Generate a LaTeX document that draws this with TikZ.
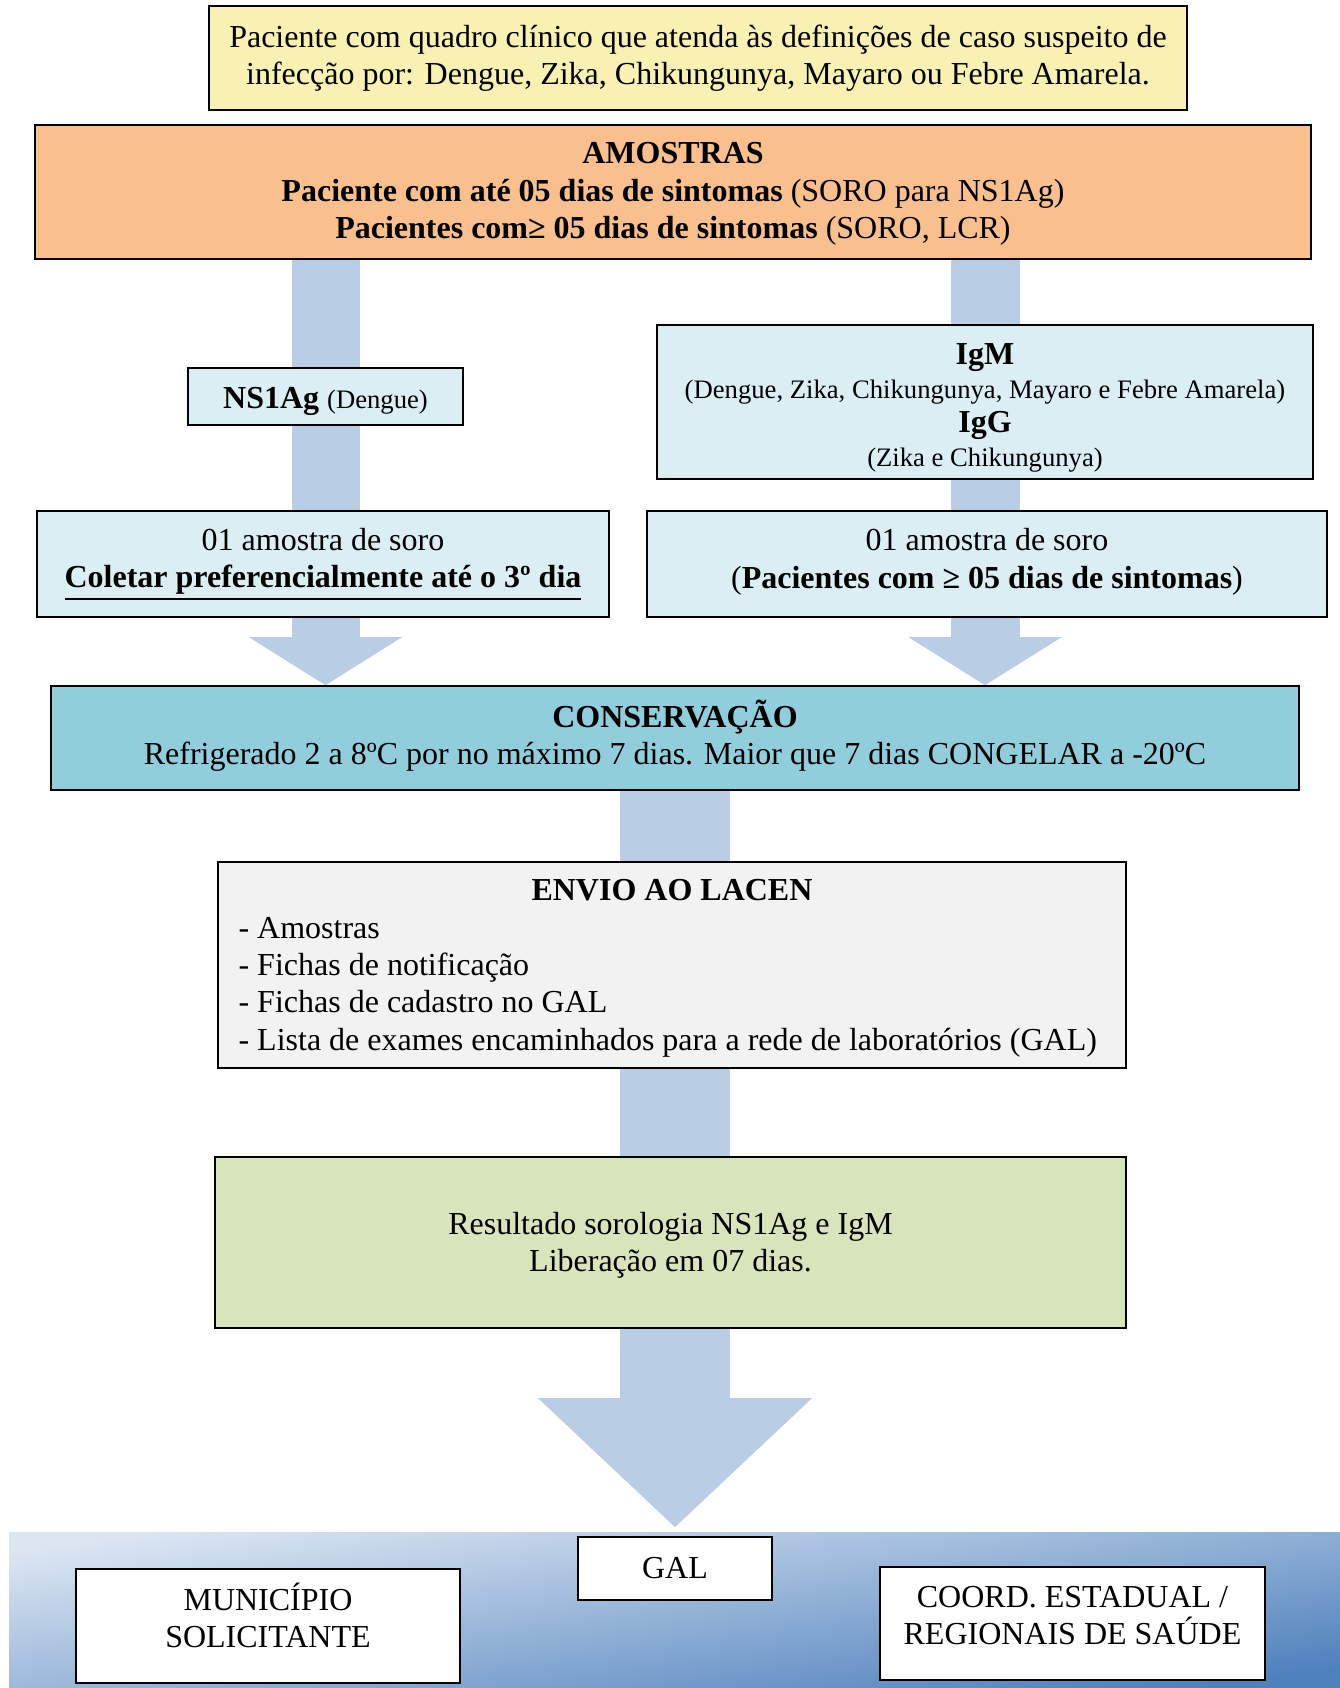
\documentclass[tikz,border=0pt]{standalone}
\usepackage{fontspec}
\setmainfont{Liberation Serif}
\usetikzlibrary{arrows.meta, shadows, backgrounds}

\definecolor{amarelo}{HTML}{F9F0B3}
\definecolor{laranja}{HTML}{FABF8F}
\definecolor{azulclaro}{HTML}{DBEEF3}
\definecolor{azulmedio}{HTML}{92CDDC}
\definecolor{cinza}{HTML}{F2F2F2}
\definecolor{verde}{HTML}{D7E4BC}
\definecolor{setacor}{HTML}{B9CDE5}
\definecolor{faixaclara}{HTML}{DCE6F2}
\definecolor{faixaescura}{HTML}{4F81BD}

\newcommand{\pequeno}{\fontsize{10}{12.7}\selectfont}
\newcommand{\sublinha}[1]{\vtop{\hbox{#1}\kern1.2pt\hrule height 0.9pt}}

\begin{document}
\begin{tikzpicture}[x=0.375pt, y=-0.375pt, font=\fontsize{12}{14}\selectfont,
caixa/.style={draw, line width=0.6pt, align=center, inner sep=0pt,
  drop shadow={shadow xshift=0.4pt, shadow yshift=-0.5pt, fill=black, opacity=0.85}},
tam/.style 2 args={minimum width=#1*0.375pt, minimum height=#2*0.375pt},
seta/.style n args={3}{draw=setacor, line width=#1*0.375pt,
  -{Triangle[width=#2*0.375pt, length=#3*0.375pt, line width=0pt]}}]
\useasboundingbox (0,0) rectangle (1340,1688);

% caixas
\node[caixa, fill=amarelo, tam={978}{104}] (suspeita) at (698,58)
  {Paciente com quadro clínico que atenda às definições de caso suspeito de\\
   infecção por: Dengue, Zika, Chikungunya, Mayaro ou Febre Amarela.};
\node[caixa, fill=laranja, tam={1276}{134}] (amostras) at (673,192)
  {\rule{0pt}{9.5pt}\textbf{AMOSTRAS}\\
   \textbf{Paciente com até 05 dias de sintomas} (SORO para NS1Ag)\\
   \textbf{Pacientes com≥ 05 dias de sintomas} (SORO, LCR)};
\node[caixa, fill=azulclaro, tam={275}{57}] (ns1ag) at (325.5,396.5)
  {\rule{0pt}{11.5pt}\textbf{NS1Ag} {\pequeno(Dengue)}};
\node[caixa, fill=azulclaro, tam={656}{154}, font=\fontsize{12}{12.7}\selectfont] (igm) at (985,402)
  {\rule{0pt}{12.3pt}\textbf{IgM}\\
   {\pequeno(Dengue, Zika, Chikungunya, Mayaro e Febre Amarela)}\\
   \textbf{IgG}\\
   {\pequeno(Zika e Chikungunya)}};
\node[caixa, fill=azulclaro, tam={572}{106}] (soroesq) at (323,564)
  {01 amostra de soro\\
   \sublinha{\textbf{Coletar preferencialmente até o 3º dia}}};
\node[caixa, fill=azulclaro, tam={680}{106}] (sorodir) at (987,564)
  {01 amostra de soro\\
   (\textbf{Pacientes com ≥ 05 dias de sintomas})\rule[-4.2pt]{0pt}{0pt}};
\node[caixa, fill=azulmedio, tam={1248}{104}] (conserv) at (675,738)
  {\textbf{CONSERVAÇÃO}\\
   Refrigerado 2 a 8ºC por no máximo 7 dias. Maior que 7 dias CONGELAR a -20ºC\rule[-4.2pt]{0pt}{0pt}};
\node[caixa, fill=cinza, tam={908}{206}] (envio) at (672,965)
  {\begin{tabular}{@{}l@{\hspace{3.2pt}}}
   \multicolumn{1}{@{}c@{}}{\rule{0pt}{12pt}\textbf{ENVIO AO LACEN}}\\
   - Amostras\\
   - Fichas de notificação\\
   - Fichas de cadastro no GAL\\
   - Lista de exames encaminhados para a rede de laboratórios (GAL)
   \end{tabular}};
\node[caixa, fill=verde, tam={911}{171}] (resultado) at (670.5,1242.5)
  {\rule{0pt}{10.5pt}Resultado sorologia NS1Ag e IgM\\
   Liberação em 07 dias.};
\node[caixa, fill=white, tam={194}{63}] (gal) at (675,1568.5) {GAL};
\node[caixa, fill=white, tam={384}{114}] (municipio) at (268,1626)
  {MUNICÍPIO\\SOLICITANTE\rule[-8pt]{0pt}{8pt}};
\node[caixa, fill=white, tam={385}{113}] (coord) at (1072.5,1623.5)
  {COORD. ESTADUAL /\\REGIONAIS DE SAÚDE\rule[-6pt]{0pt}{6pt}};

% faixa e setas por baixo
\begin{scope}[on background layer]
\shade[top color=faixaclara, bottom color=faixaescura, shading angle=8]
  (9,1532) rectangle (1340,1688);
\draw[seta={68}{153}{48}] (amostras.south -| ns1ag.south) -- (conserv.north -| ns1ag.south);
\draw[seta={69}{153}{48}] (amostras.south -| igm.south) -- (conserv.north -| igm.south);
\draw[seta={110}{274}{129}, shorten >=3.4pt] (conserv.south) -- (gal.north);
\end{scope}
\end{tikzpicture}
\end{document}
